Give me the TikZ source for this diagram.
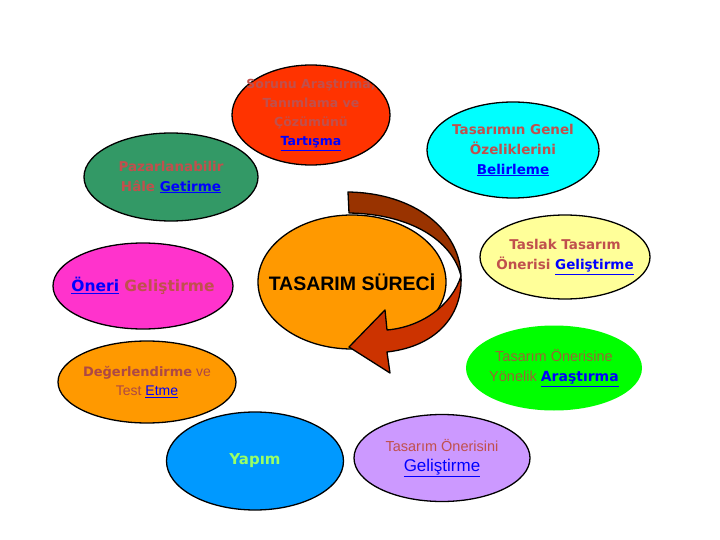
\documentclass[tikz,border=0pt]{standalone}
\usepackage{fontspec}
\setmainfont{Liberation Sans}
\newfontfamily\comicfont{DejaVu Sans}
\usetikzlibrary{shapes.geometric}
\definecolor{txtred}{RGB}{192,80,77}
\definecolor{linkblue}{RGB}{0,0,255}
\definecolor{sorred}{RGB}{255,51,0}
\definecolor{pazgreen}{RGB}{51,153,102}
\definecolor{belcyan}{RGB}{0,255,255}
\definecolor{tasyellow}{RGB}{255,255,153}
\definecolor{onermag}{RGB}{255,51,204}
\definecolor{surorange}{RGB}{255,153,0}
\definecolor{argreen}{RGB}{0,255,0}
\definecolor{yapblue}{RGB}{0,153,255}
\definecolor{gelpurple}{RGB}{204,153,255}
\definecolor{arrbrown}{RGB}{153,51,0}
\definecolor{arrred}{RGB}{204,51,0}
\definecolor{olivetxt}{RGB}{153,102,51}
\definecolor{yaptxt}{RGB}{153,255,102}
\newcommand{\lnk}[1]{\textcolor{linkblue}{\underline{#1}}}

\begin{document}
\begin{tikzpicture}
  [x=1pt,y=-1pt,every node/.style={ellipse,draw,line width=1.3pt,inner xsep=-40pt,inner ysep=-20pt,
   minimum width=176pt,minimum height=86pt,align=center,text=txtred},
   cmc/.style={font=\comicfont\bfseries\fontsize{13.5}{20}\selectfont},
   arl/.style={font=\fontsize{14.5}{20}\selectfont}]
  \useasboundingbox (0,0) rectangle (720,540);
  \node[cmc,fill=pazgreen,minimum width=174pt,minimum height=88pt] (npaz) at (171,177) {Pazarlanabilir\\Hâle \lnk{Getirme}};
  \node[cmc,fill=sorred,minimum width=158pt,minimum height=100pt,font=\comicfont\bfseries\fontsize{12.5}{19}\selectfont] (nsor) at (311,115) {Sorunu Araştırma,\\Tanımlama ve\\Çözümünü\\\lnk{Tartışma}};
  \node[cmc,fill=belcyan,minimum width=172pt,minimum height=96pt] (nbel) at (513,150) {Tasarımın Genel\\Özeliklerini\\\lnk{Belirleme}};
  \node[cmc,fill=tasyellow,minimum width=170pt,minimum height=84pt] (ntas) at (565,257) {Taslak Tasarım\\Önerisi \lnk{Geliştirme}};
  \node[cmc,fill=onermag,minimum width=180pt,minimum height=86pt,font=\comicfont\bfseries\fontsize{15.5}{20}\selectfont] (noner) at (143,286) {\lnk{Öneri} Geliştirme};
  \node[fill=surorange,minimum width=188pt,minimum height=134pt,text=black,font=\bfseries\fontsize{19.5}{20}\selectfont] (nsurec) at (352,282) {TASARIM SÜRECİ};
  % donen ok
  \filldraw[arrbrown,draw=black,line width=1.3pt,line join=round]
    (348,192) .. controls (415,193) and (460,230) .. (461,276)
    .. controls (452,240) and (410,214) .. (349,213) -- cycle;
  \filldraw[arrred,draw=black,line width=1.3pt,line join=round]
    (461,276) .. controls (463,312) and (440,346) .. (387,352) -- (390,373)
    -- (349,347) -- (385,310) -- (387,330)
    .. controls (422,327) and (452,305) .. (461,276) -- cycle;
  \node[arl,draw=none,fill=argreen,text=olivetxt,minimum width=176pt,minimum height=85pt] (narg) at (554,368) {Tasarım Önerisine\\Yönelik {\comicfont\bfseries\fontsize{14}{20}\selectfont\lnk{Araştırma}}};
  \node[fill=surorange,minimum width=178pt,minimum height=82pt,text=txtred!90!black,font=\fontsize{14}{19}\selectfont] (ndeg) at (147,382) {{\comicfont\bfseries\fontsize{13}{19}\selectfont Değerlendirme} ve\\Test \lnk{Etme}};
  \node[fill=yapblue,minimum width=177pt,minimum height=98pt,text=yaptxt,font=\comicfont\bfseries\fontsize{15}{20}\selectfont] (nyap) at (255,461) {Yapım};
  \node[arl,fill=gelpurple,minimum width=176pt,minimum height=87pt] (ngel) at (442,458) {Tasarım Önerisini\\{\fontsize{17}{20}\selectfont\lnk{Geliştirme}}};
\end{tikzpicture}
\end{document}
